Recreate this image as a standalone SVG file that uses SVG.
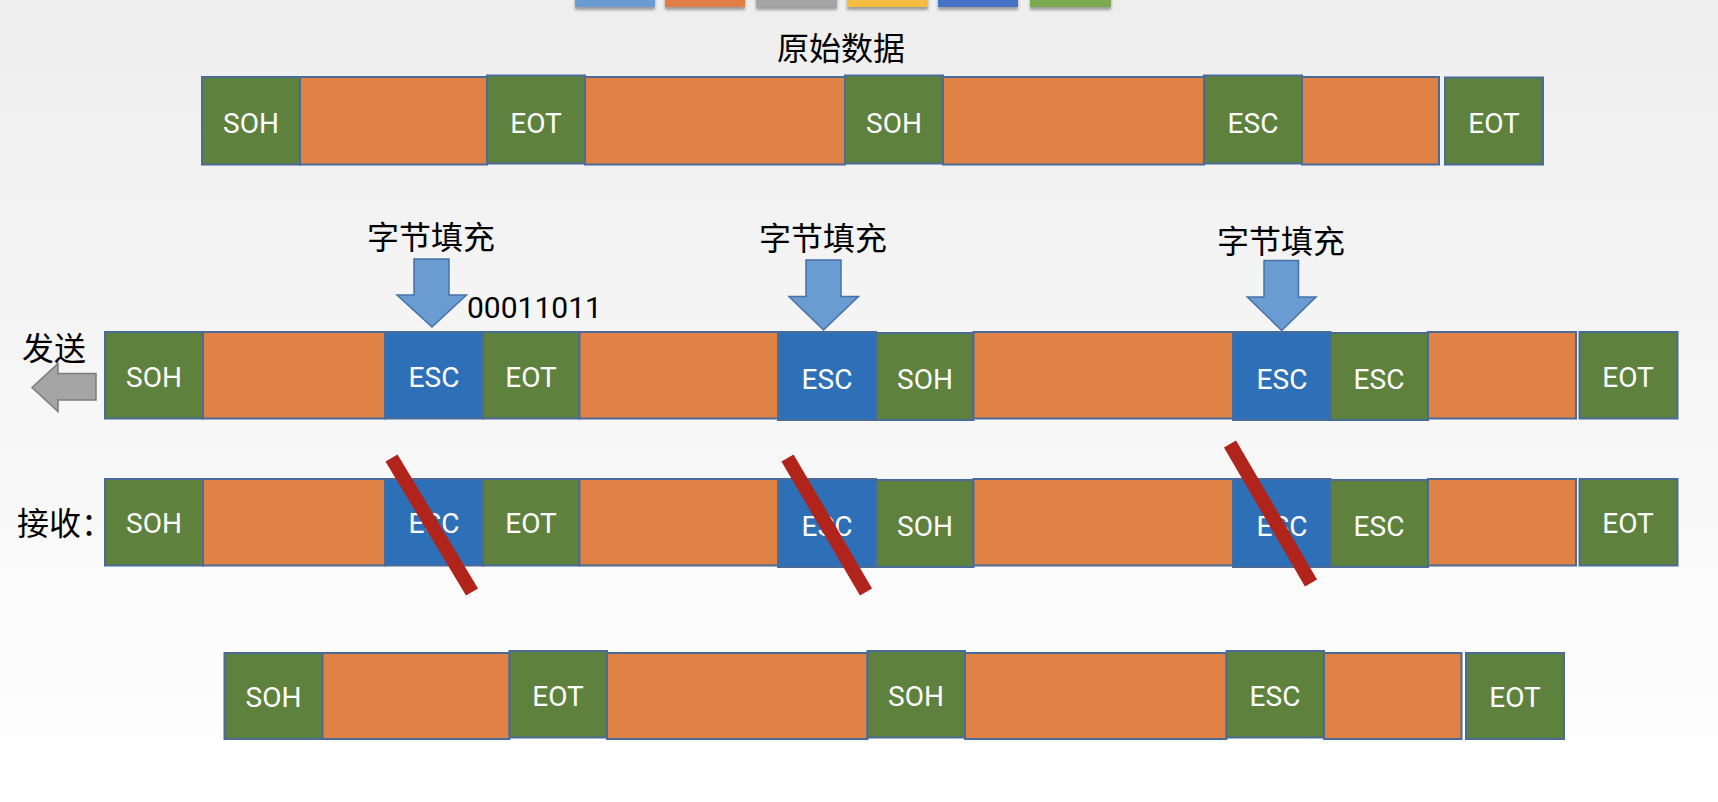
<svg xmlns="http://www.w3.org/2000/svg" width="1718" height="802" viewBox="0 0 1718 802">
<defs>
<linearGradient id="bg" x1="0" y1="0" x2="0" y2="1">
<stop offset="0" stop-color="#EEEEEE"/>
<stop offset="1" stop-color="#FFFFFF"/>
</linearGradient>
<filter id="sh" x="-20%" y="-50%" width="140%" height="250%">
<feGaussianBlur in="SourceAlpha" stdDeviation="1.5"/>
<feOffset dy="3" result="b"/>
<feComponentTransfer><feFuncA type="linear" slope="0.35"/></feComponentTransfer>
<feMerge><feMergeNode/><feMergeNode in="SourceGraphic"/></feMerge>
</filter>
</defs>
<style>
.g{fill:#5E813D;stroke:#4A6B98;stroke-width:2}
.o{fill:#E08245;stroke:#4A6B98;stroke-width:2}
.b{fill:#2E70B8;stroke:#4A6B98;stroke-width:2}
.t{font-family:Roboto,"Liberation Sans",sans-serif;font-size:28px;fill:#FFFFFF;text-anchor:middle}
.cn{font-family:"Noto Sans CJK SC",sans-serif;font-size:32px;fill:#000000}
.dn{fill:#6A9BD1;stroke:#4472A8;stroke-width:1.5}
.x{stroke:#B1241C;stroke-width:14}
</style>
<rect x="0" y="0" width="1718" height="802" fill="url(#bg)"/>

<g id="legend" filter="url(#sh)">
<rect x="575" y="-10" width="80" height="17" fill="#6A9BD1"/>
<rect x="665" y="-10" width="80" height="17" fill="#E07E45"/>
<rect x="756" y="-10" width="81" height="17" fill="#A5A5A5"/>
<rect x="847" y="-10" width="81" height="17" fill="#F5BE41"/>
<rect x="938" y="-10" width="80" height="17" fill="#4472C4"/>
<rect x="1030" y="-10" width="81" height="17" fill="#7BAA52"/>
</g>

<g id="title"><text class="cn" x="841" y="60" text-anchor="middle">原始数据</text></g>

<g id="row1">
<rect class="g" x="202" y="77" width="98" height="87.5"/>
<rect class="o" x="300" y="77" width="187" height="87.5"/>
<rect class="g" x="487" y="75.5" width="98" height="88"/>
<rect class="o" x="585" y="77" width="260" height="87.5"/>
<rect class="g" x="845" y="75.5" width="98" height="88"/>
<rect class="o" x="943" y="77" width="261" height="87.5"/>
<rect class="g" x="1204" y="75.5" width="98" height="88"/>
<rect class="o" x="1302" y="77" width="137" height="87.5"/>
<rect class="g" x="1445" y="77.5" width="98" height="87"/>
<text class="t" x="251" y="132.5">SOH</text>
<text class="t" x="536" y="132.5">EOT</text>
<text class="t" x="894" y="132.5">SOH</text>
<text class="t" x="1253" y="132.5">ESC</text>
<text class="t" x="1494" y="132.5">EOT</text>
</g>

<g id="labels">
<text class="cn" x="431" y="249" text-anchor="middle">字节填充</text>
<text class="cn" x="823" y="250" text-anchor="middle">字节填充</text>
<text class="cn" x="1281" y="253" text-anchor="middle">字节填充</text>
<text x="467" y="318" font-family="Roboto,'Liberation Sans',sans-serif" font-size="30" fill="#000">00011011</text>
<text class="cn" x="22" y="360">发送</text>
<text class="cn" x="17" y="535">接收：</text>
</g>

<g id="arrows">
<polygon class="dn" points="414,259 449,259 449,295 466.5,295 432,327 397,295 414,295"/>
<polygon class="dn" points="806,260 841,260 841,296.5 858.5,296.5 823.5,330 789,296.5 806,296.5"/>
<polygon class="dn" points="1264,260.5 1298.5,260.5 1298.5,297 1316,297 1281.7,330.5 1247.3,297 1264,297"/>
<polygon points="32,387.5 58,363.5 58,373.5 96,373.5 96,400 58,400 58,411.5" fill="#A5A5A5" stroke="#7B7B7B" stroke-width="1.5"/>
</g>

<g id="row2">
<rect class="g" x="105" y="332" width="98" height="86.5"/>
<rect class="o" x="203" y="332" width="182" height="86.5"/>
<rect class="b" x="385" y="332" width="98" height="86.5"/>
<rect class="g" x="483" y="332" width="96.5" height="86.5"/>
<rect class="o" x="579.5" y="332" width="198.5" height="86.5"/>
<rect class="b" x="778" y="332" width="98" height="88"/>
<rect class="g" x="876" y="333" width="97.5" height="87"/>
<rect class="o" x="973.5" y="332" width="259.5" height="86.5"/>
<rect class="b" x="1233" y="332" width="97.5" height="88"/>
<rect class="g" x="1330.5" y="333" width="97.5" height="87"/>
<rect class="o" x="1428" y="332" width="148" height="86.5"/>
<rect class="g" x="1579.5" y="332" width="98" height="86.5"/>
<text class="t" x="154" y="386.5">SOH</text>
<text class="t" x="434" y="386.5">ESC</text>
<text class="t" x="531" y="386.5">EOT</text>
<text class="t" x="827" y="389">ESC</text>
<text class="t" x="925" y="389">SOH</text>
<text class="t" x="1282" y="389">ESC</text>
<text class="t" x="1379" y="389">ESC</text>
<text class="t" x="1628" y="386.5">EOT</text>
</g>

<g id="row3">
<rect class="g" x="105" y="479" width="98" height="86.5"/>
<rect class="o" x="203" y="479" width="182" height="86.5"/>
<rect class="b" x="385" y="479" width="98" height="86.5"/>
<rect class="g" x="483" y="479" width="96.5" height="86.5"/>
<rect class="o" x="579.5" y="479" width="198.5" height="86.5"/>
<rect class="b" x="778" y="479" width="98" height="88"/>
<rect class="g" x="876" y="480" width="97.5" height="87"/>
<rect class="o" x="973.5" y="479" width="259.5" height="86.5"/>
<rect class="b" x="1233" y="479" width="97.5" height="88"/>
<rect class="g" x="1330.5" y="480" width="97.5" height="87"/>
<rect class="o" x="1428" y="479" width="148" height="86.5"/>
<rect class="g" x="1579.5" y="479" width="98" height="86.5"/>
<text class="t" x="154" y="533">SOH</text>
<text class="t" x="434" y="533">ESC</text>
<text class="t" x="531" y="533">EOT</text>
<text class="t" x="827" y="536">ESC</text>
<text class="t" x="925" y="536">SOH</text>
<text class="t" x="1282" y="536">ESC</text>
<text class="t" x="1379" y="536">ESC</text>
<text class="t" x="1628" y="533">EOT</text>
</g>

<g id="strikes">
<line class="x" x1="391.5" y1="458" x2="472" y2="592"/>
<line class="x" x1="787.5" y1="458" x2="866" y2="592"/>
<line class="x" x1="1230" y1="444" x2="1311" y2="583"/>
</g>

<g id="row4">
<rect class="g" x="224.5" y="653" width="98" height="86"/>
<rect class="o" x="322.5" y="653" width="187" height="86"/>
<rect class="g" x="509.5" y="651" width="97.5" height="86.5"/>
<rect class="o" x="607" y="653" width="260.5" height="86"/>
<rect class="g" x="867.5" y="651" width="97.5" height="86.5"/>
<rect class="o" x="965" y="653" width="261.5" height="86"/>
<rect class="g" x="1226.5" y="651" width="97.5" height="86.5"/>
<rect class="o" x="1324" y="653" width="137.5" height="86"/>
<rect class="g" x="1466" y="653" width="98" height="86"/>
<text class="t" x="273.5" y="707">SOH</text>
<text class="t" x="558" y="706">EOT</text>
<text class="t" x="916" y="706">SOH</text>
<text class="t" x="1275" y="706">ESC</text>
<text class="t" x="1515" y="707">EOT</text>
</g>
</svg>
